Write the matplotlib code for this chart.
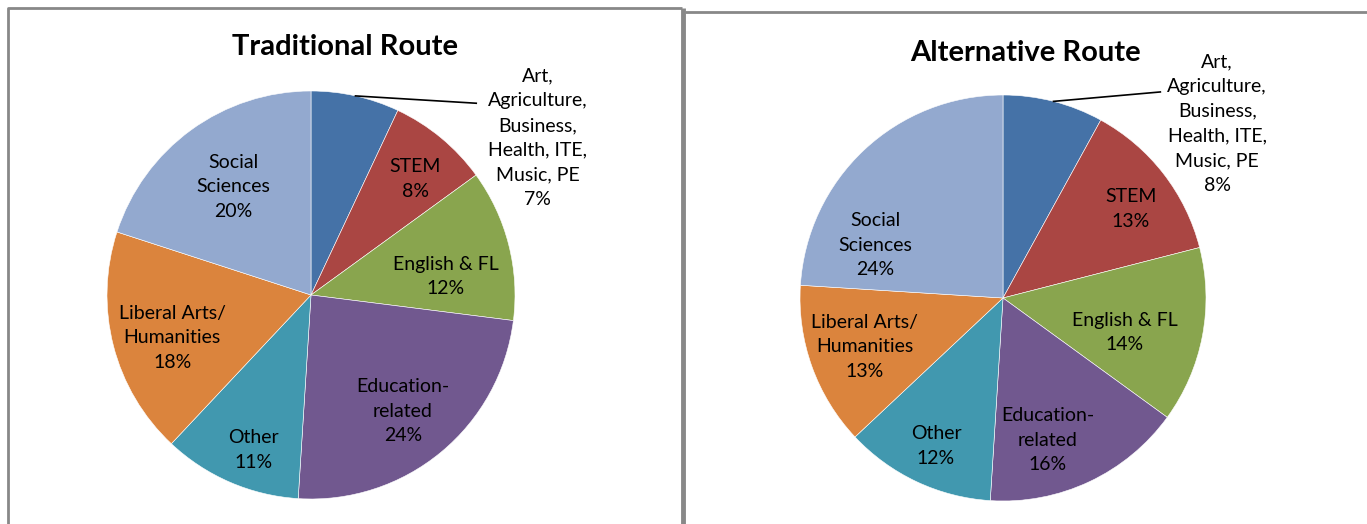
import matplotlib
matplotlib.use("Agg")
import matplotlib.pyplot as plt
import numpy as np

plt.rcParams["font.family"] = ["Lato", "DejaVu Sans"]

# Data
categories = ["Art,\nAgriculture,\nBusiness,\nHealth, ITE,\nMusic, PE", "STEM", "English & FL",
              "Education-\nrelated", "Other", "Liberal Arts/\nHumanities", "Social\nSciences"]
traditional = [7, 8, 12, 24, 11, 18, 20]
alternative = [8, 13, 14, 16, 12, 13, 24]
titles = ["Traditional Route", "Alternative Route"]

COLORS = ["#4572A7", "#AA4643", "#89A54E", "#71588F", "#4198AF", "#DB843D", "#93A9CF"]

# Layout in pixel space (y up), label offsets in units of radius
W, H = 1367, 524
PANELS = [
    {"center": (311, 524 - 295), "radius": 204, "title_xy": (345, 524 - 47),
     "label_off": [(1.11, 0.77), (0.51, 0.57), (0.66, 0.09), (0.45, -0.57),
                   (-0.28, -0.76), (-0.68, -0.21), (-0.38, 0.53)],
     "leader_end": (0.81, 0.94)},
    {"center": (1003, 524 - 298), "radius": 203, "title_xy": (1025, 524 - 53),
     "label_off": [(1.055, 0.86), (0.63, 0.44), (0.60, -0.17), (0.22, -0.70),
                   (-0.33, -0.73), (-0.68, -0.24), (-0.63, 0.26)],
     "leader_end": (0.775, 1.015)},
]

fig = plt.figure(figsize=(W / 100, H / 100), dpi=100)
ax = fig.add_axes([0, 0, 1, 1])
ax.set_xlim(0, W)
ax.set_ylim(0, H)
ax.axis("off")

for panel, values, title in zip(PANELS, [traditional, alternative], titles):
    cx, cy = panel["center"]
    r = panel["radius"]
    wedges, _ = ax.pie(values, colors=COLORS, startangle=90, counterclock=False,
                       center=(cx, cy), radius=r, frame=True,
                       wedgeprops={"edgecolor": "white", "linewidth": 0.4})
    for i, (cat, v) in enumerate(zip(categories, values)):
        dx, dy = panel["label_off"][i]
        ax.text(cx + dx * r, cy + dy * r, f"{cat}\n{v}%", ha="center", va="center",
                fontsize=14, linespacing=1.55, color="black")
    # leader line for the first (outside) label
    w0 = wedges[0]
    mid = np.deg2rad((w0.theta1 + w0.theta2) / 2)
    ex, ey = panel["leader_end"]
    ax.plot([cx + r * np.cos(mid), cx + ex * r], [cy + r * np.sin(mid), cy + ey * r],
            color="black", linewidth=1.2)
    ax.text(*panel["title_xy"], title, ha="center", va="center", fontsize=21,
            fontweight="bold")

ax.set_xlim(0, W)
ax.set_ylim(0, H)
ax.set_aspect("auto")

# panel borders
border = "#888888"
ax.plot([8, 8, 682], [0, H - 8, H - 8], color=border, linewidth=2, solid_capstyle="butt")
ax.plot([683, 683], [0, H - 8], color=border, linewidth=3.5, solid_capstyle="butt")
ax.plot([685, W], [H - 12, H - 12], color=border, linewidth=2, solid_capstyle="butt")

fig.savefig("out.png", dpi=100)
